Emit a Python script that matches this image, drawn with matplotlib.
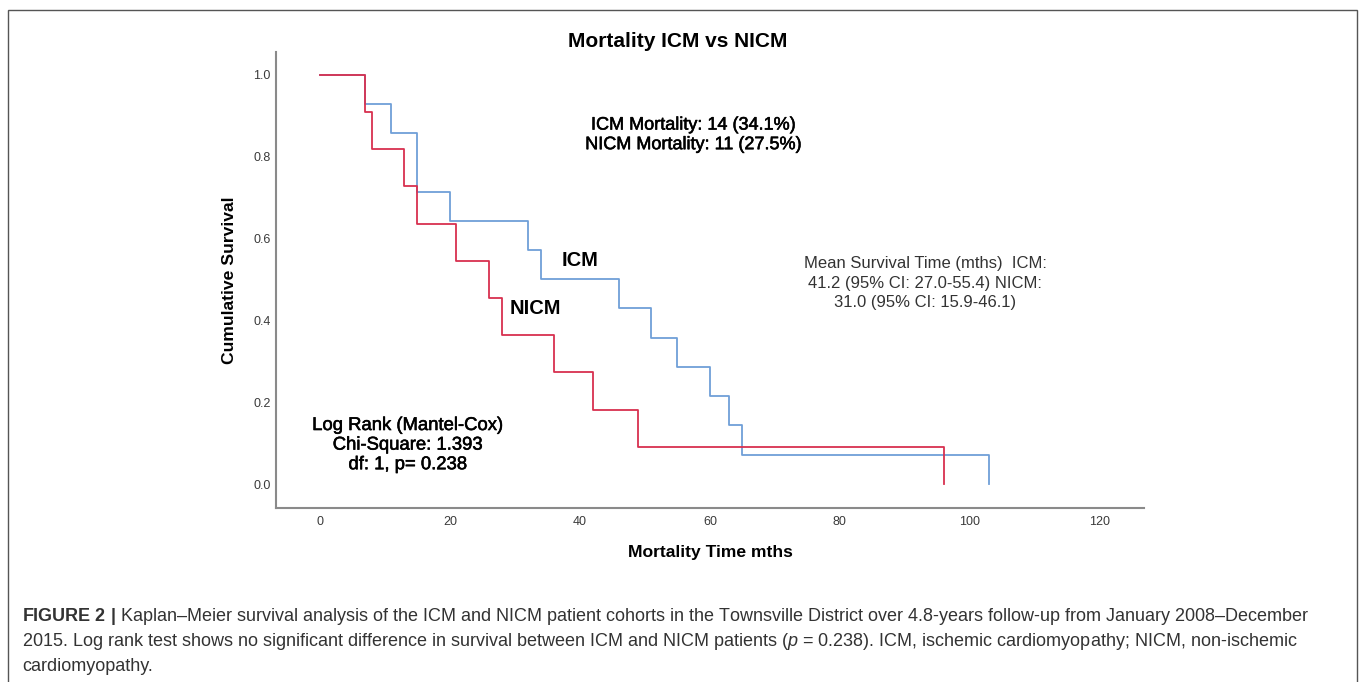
import numpy as np
import matplotlib
matplotlib.use("Agg")
import matplotlib.pyplot as plt
import matplotlib.patheffects as pe
from matplotlib.patches import Rectangle

plt.rcParams['font.family'] = ['Liberation Sans', 'DejaVu Sans']
plt.rcParams['mathtext.fontset'] = 'custom'
plt.rcParams['mathtext.rm'] = 'Liberation Sans'
plt.rcParams['mathtext.it'] = 'Liberation Sans:italic'
plt.rcParams['mathtext.bf'] = 'Liberation Sans:bold'

# Kaplan-Meier steps (months, cumulative survival)
icm_t = [0, 7, 11, 15, 20, 32, 34, 46, 51, 55, 60, 63, 65, 103]
icm_s = [1.0, 0.929, 0.857, 0.714, 0.643, 0.571, 0.500, 0.429, 0.357, 0.286, 0.214, 0.143, 0.071, 0.0]
nicm_t = [0, 7, 8, 13, 15, 21, 26, 28, 36, 42, 49, 96]
nicm_s = [1.0, 0.909, 0.818, 0.727, 0.636, 0.545, 0.455, 0.364, 0.273, 0.182, 0.091, 0.0]

x_ticks = [0, 20, 40, 60, 80, 100, 120]
y_ticks = [0.0, 0.2, 0.4, 0.6, 0.8, 1.0]

title = "Mortality ICM vs NICM"
mortality_txt = "ICM Mortality: 14 (34.1%)\nNICM Mortality: 11 (27.5%)"
logrank_txt = "Log Rank (Mantel-Cox)\nChi-Square: 1.393\ndf: 1, p= 0.238"
mean_txt = "Mean Survival Time (mths)  ICM:\n41.2 (95% CI: 27.0-55.4) NICM:\n31.0 (95% CI: 15.9-46.1)"
caption = [
    r"$\mathbf{FIGURE\ 2\ |}$ Kaplan–Meier survival analysis of the ICM and NICM patient cohorts in the Townsville District over 4.8-years follow-up from January 2008–December",
    r"2015. Log rank test shows no significant difference in survival between ICM and NICM patients ($\mathit{p}$ = 0.238). ICM, ischemic cardiomyopathy; NICM, non-ischemic",
    "cardiomyopathy.",
]

W, H = 1360, 682
blue = '#6f9fd8'
red = '#d8304f'

fig = plt.figure(figsize=(13.6, 6.82), dpi=100)
fig.patches.append(Rectangle((8 / W, -0.05), (1357 - 8) / W, 1 - 10 / H + 0.05,
                             transform=fig.transFigure, fill=False, ec='#555555', lw=1.0))

ax = fig.add_axes([276 / W, 1 - 507.5 / H, (1144 - 276) / W, (507.5 - 52) / H])
ax.step(icm_t, icm_s, where='post', color=blue, lw=1.3)
ax.step(nicm_t, nicm_s, where='post', color=red, lw=1.3)

ax.set_xlim(-6.77, 126.8)
ax.set_ylim(-0.0574, 1.0555)
ax.set_xticks(x_ticks)
ax.set_xticklabels([str(v) for v in x_ticks])
ax.set_yticks(y_ticks)
ax.set_yticklabels(['%.1f' % v for v in y_ticks])
ax.tick_params(length=0, labelsize=9, colors='#3a3a3a')
ax.tick_params(axis='x', pad=6)
ax.tick_params(axis='y', pad=4)
for s in ['top', 'right']:
    ax.spines[s].set_visible(False)
for s in ['left', 'bottom']:
    ax.spines[s].set_color('#8a8a8a')
    ax.spines[s].set_linewidth(1.5)

heavy = [pe.withStroke(linewidth=0.4, foreground='black')]
ax.text(40, 0.547, "ICM", fontsize=14.5, fontweight='bold', ha='center', va='center')
ax.text(33.2, 0.428, "NICM", fontsize=14.5, fontweight='bold', ha='center', va='center')
ax.text(57.4, 0.853, mortality_txt, fontsize=13, ha='center', va='center',
        multialignment='center', path_effects=heavy)
ax.text(13.5, 0.095, logrank_txt, fontsize=13.3, ha='center', va='center',
        multialignment='center', path_effects=heavy)
ax.text(93.1, 0.491, mean_txt, fontsize=12, color='#333333', ha='center', va='center',
        multialignment='center', linespacing=1.4)

fig.text(678 / W, 1 - 47 / H, title, fontsize=15, fontweight='bold', ha='center', va='baseline')
fig.text(710 / W, 1 - 553 / H, "Mortality Time mths", fontsize=12.6, fontweight='bold',
         ha='center', va='center')
fig.text(229 / W, 1 - 280 / H, "Cumulative Survival", fontsize=12.6, fontweight='bold',
         ha='center', va='center', rotation=90)

# caption, sized so the first line spans the same width as the original
cap_texts = []
for i, line in enumerate(caption):
    t = fig.text(22 / W, 1 - (621 + 25 * i) / H, line, fontsize=12, color='#333333',
                 ha='left', va='baseline')
    cap_texts.append(t)
r = fig.canvas.get_renderer()
w0 = cap_texts[0].get_window_extent(r).width
for t in cap_texts:
    t.set_fontsize(12 * 1284 / w0)

fig.savefig("out.png", dpi=100)
